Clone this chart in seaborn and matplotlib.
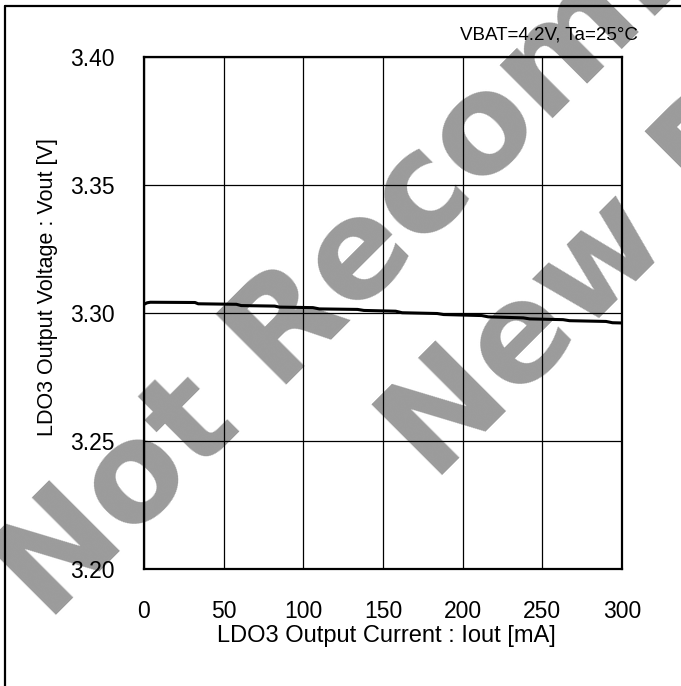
import numpy as np
import pandas as pd
import matplotlib
matplotlib.use('Agg')
import matplotlib.pyplot as plt
import seaborn as sns
from matplotlib.lines import Line2D

# ---- data ----
current_ma = [0, 2, 4, 32, 34, 58, 61, 82, 85, 106, 110, 134, 138, 158, 162,
              184, 188, 212, 216, 238, 242, 263, 267, 290, 294, 300]
vout_v = [3.3034, 3.3040, 3.3042, 3.3041, 3.3036, 3.3034, 3.3029, 3.3027, 3.3023,
          3.3021, 3.3016, 3.3014, 3.3010, 3.3007, 3.3001, 3.2998, 3.2994, 3.2990,
          3.2985, 3.2981, 3.2977, 3.2974, 3.2970, 3.2967, 3.2962, 3.2961]
x_ticks = [0, 50, 100, 150, 200, 250, 300]
y_ticks = [3.20, 3.25, 3.30, 3.35, 3.40]
y_tick_labels = ['3.20', '3.25', '3.30', '3.35', '3.40']
x_label = 'LDO3 Output Current : Iout [mA]'
y_label = 'LDO3 Output Voltage : Vout [V]'
condition = 'VBAT=4.2V, Ta=25°C'
watermark_lines = ['Not Recommended for', 'New Designs']

sns.set_theme(style='white')
plt.rcParams['font.family'] = ['Liberation Sans', 'DejaVu Sans']

W, H = 681, 686
fig = plt.figure(figsize=(W / 100, H / 100), dpi=100)
fig.patch.set_facecolor('white')
ax = fig.add_axes([144 / W, 1 - 569 / H, 478 / W, 512 / H])
ax.set_facecolor('none')

df = pd.DataFrame({'I': current_ma, 'V': vout_v})
sns.lineplot(data=df, x='I', y='V', ax=ax, color='black', linewidth=2.2, zorder=3)

ax.set_xlim(0, 300)
ax.set_ylim(3.2, 3.4)
ax.set_xticks(x_ticks)
ax.set_yticks(y_ticks)
ax.set_yticklabels(y_tick_labels)
ax.grid(True, color='black', linewidth=0.9)
ax.set_axisbelow(True)
ax.tick_params(length=0, labelsize=16.5, colors='black')
ax.tick_params(axis='y', pad=21)
ax.tick_params(axis='x', pad=22)
for s in ax.spines.values():
    s.set_visible(True)
    s.set_color('black')
    s.set_linewidth(1.6)
ax.set_xlabel('')
ax.set_ylabel('')

fig.text(386.5 / W, 1 - 636 / H, x_label, ha='center', va='center', fontsize=17, color='black')
fig.text(48 / W, 1 - 287.5 / H, y_label, rotation=90, ha='center', va='center',
         fontsize=15.5, color='black')
fig.text(638 / W, 1 - 39 / H, condition, ha='right', va='baseline', fontsize=13.5, color='black')

# watermark
wm_kw = dict(rotation=45, rotation_mode='anchor', ha='left', va='baseline',
             fontsize=99.7, fontweight='bold', family='DejaVu Sans',
             color='#9b9b9b', zorder=-1)
fig.text(48 / W, 1 - 624 / H, watermark_lines[0], **wm_kw)
fig.text(434 / W, 1 - 484 / H, watermark_lines[1], **wm_kw)

# figure frame (left and top)
fig.add_artist(Line2D([5 / W, 5 / W], [0, 1 - 6 / H], transform=fig.transFigure,
                      color='black', lw=1.6))
fig.add_artist(Line2D([5 / W, 1], [1 - 6 / H, 1 - 6 / H], transform=fig.transFigure,
                      color='black', lw=1.6))

fig.savefig('out.png', dpi=100)
